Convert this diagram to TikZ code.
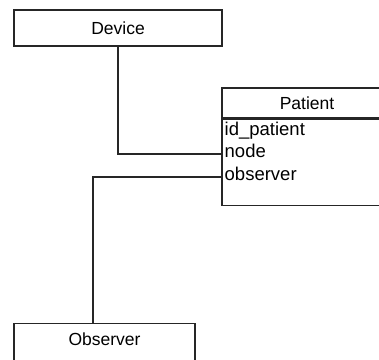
\documentclass[tikz,border=0pt]{standalone}
\usepackage{fontspec}
\setmainfont{Liberation Sans}
\usepackage{tikz}
\usetikzlibrary{positioning}

\begin{document}
\begin{tikzpicture}[
    x=1pt, y=-1pt,
    box/.style={
      rectangle, draw=black!85, line width=1.2pt, fill=white,
      inner sep=0pt, text centered,
      font=\fontsize{17.5}{21}\selectfont
    },
    attr/.style={
      inner xsep=2.5pt, inner ysep=0pt, anchor=west,
      text height=8pt, text depth=2pt,
      font=\fontsize{18.5}{22}\selectfont
    },
    link/.style={draw=black!85, line width=1.2pt},
    node distance=0pt
  ]
  \clip (0,0) rectangle (379,359);
  \fill[white] (0,0) rectangle (379,359);

  \node[box, minimum width=208pt, minimum height=36pt] (device) at (118,28) {Device};
  \node[box, minimum width=170pt, minimum height=30pt] (patienthead) at (307,103) {Patient};
  \node[box, minimum width=170pt, minimum height=86pt, below=of patienthead] (patientbody) {};
  % lower edge of Observer lies outside the frame
  \node[box, minimum width=181pt, minimum height=40pt, anchor=north,
        text height=13pt, text depth=9pt] (observer) at (104.5,322.5) {Observer};

  % attributes of Patient
  \node[attr] (idpatient) at (222,132) {id\_patient};
  \node[attr] (nodeattr) at (222,154) {node};
  \node[attr] (observerattr) at (222,177) {observer};

  \draw[link] (device.south) |- (nodeattr.west);
  \draw[link] (observerattr.west) -| ([xshift=-11.5pt]observer.north);
\end{tikzpicture}
\end{document}
